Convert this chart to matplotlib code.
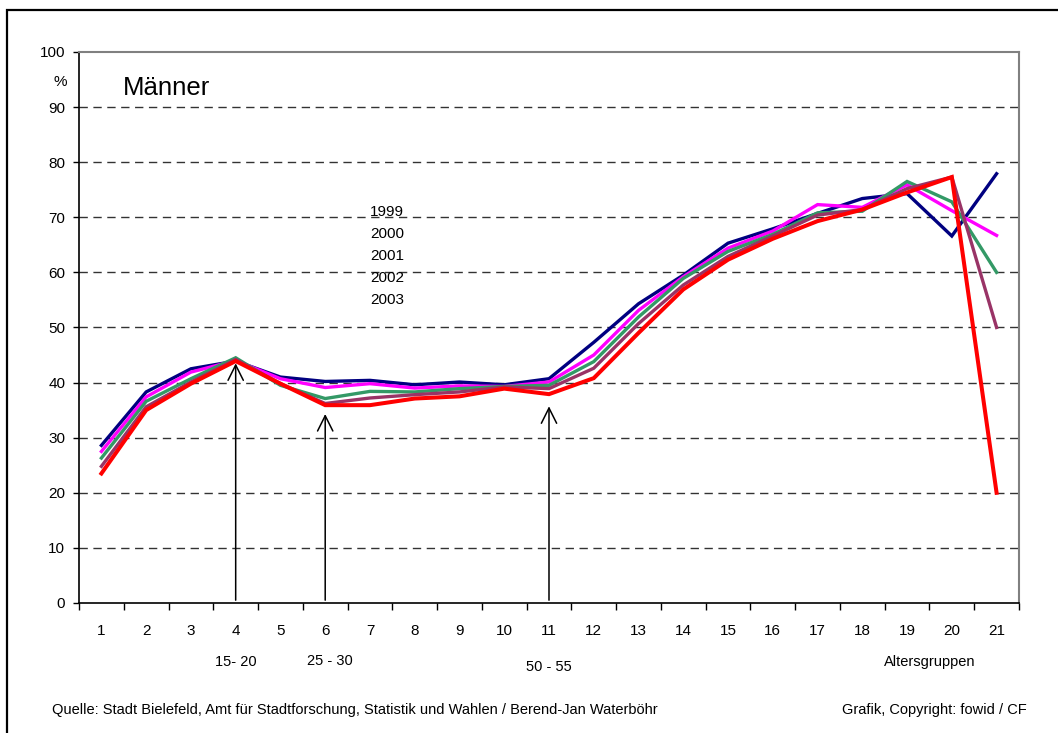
# maenner_altersgruppen.py
# Anteil (%) je Altersgruppe, Männer, Bielefeld 1999-2003

import numpy as np
import matplotlib.pyplot as plt
from matplotlib.patches import Rectangle

plt.rcParams['font.family'] = ['Liberation Sans', 'DejaVu Sans']

# Data
groups = list(range(1, 22))
years = ['1999', '2000', '2001', '2002', '2003']
v1999 = [28.6, 38.3, 42.5, 43.9, 41.0, 40.2, 40.4, 39.6, 40.1, 39.6, 40.7,
         47.3, 54.3, 59.5, 65.3, 67.9, 70.7, 73.4, 74.3, 66.6, 77.9]
v2000 = [27.5, 37.4, 41.9, 44.0, 40.7, 39.1, 39.8, 39.0, 39.4, 39.3, 40.1,
         45.0, 53.1, 59.2, 64.4, 67.5, 72.3, 71.8, 75.9, 71.2, 66.7]
v2001 = [26.3, 36.6, 40.7, 44.5, 39.5, 37.1, 38.4, 38.3, 38.9, 39.3, 39.5,
         43.8, 51.9, 58.9, 63.8, 66.9, 70.8, 71.1, 76.5, 72.8, 60.0]
v2002 = [24.8, 35.6, 40.1, 44.2, 39.8, 36.2, 37.2, 37.8, 38.3, 39.2, 38.9,
         42.6, 50.7, 57.7, 62.9, 66.6, 70.4, 71.4, 75.2, 77.3, 50.0]
v2003 = [23.5, 35.0, 39.8, 43.9, 39.8, 35.9, 35.9, 37.1, 37.5, 38.9, 37.9,
         40.8, 49.0, 56.9, 62.3, 66.1, 69.3, 71.4, 74.5, 77.3, 20.0]
series = [v1999, v2000, v2001, v2002, v2003]
colors = ['#000080', '#FF00FF', '#339966', '#993366', '#FF0000']
widths = [2.4, 2.4, 2.4, 2.4, 2.9]

# marked age groups: position, arrow tip value, label
marks = [(4, 44.0, '15- 20'), (6, 34.8, '25 - 30'), (11, 36.2, '50 - 55')]

fig = plt.figure(figsize=(10.58, 7.33), dpi=100)
ax = fig.add_axes([0.0747, 0.1774, 0.8884, 0.7517])

for vals, c, lw in zip(series, colors, widths):
    ax.plot(groups, vals, color=c, lw=lw, solid_joinstyle='miter', zorder=3)

ax.set_xlim(0.5, 21.5)
ax.set_ylim(0, 100)

# grid
for y in range(10, 100, 10):
    ax.axhline(y, color='#333333', lw=1, ls=(0, (6, 4)), zorder=1)

# axes look
ax.spines['top'].set_color('#808080')
ax.spines['right'].set_color('#808080')
ax.spines['top'].set_linewidth(1.5)
ax.spines['right'].set_linewidth(1.5)
ax.spines['left'].set_linewidth(1.2)
ax.spines['bottom'].set_linewidth(1.2)

ax.set_yticks(range(0, 101, 10))
ax.tick_params(axis='y', direction='out', length=4, width=1, pad=6, labelsize=11)
ax.set_xticks(groups)
ax.set_xticks(np.arange(0.5, 21.6, 1), minor=True)
ax.tick_params(axis='x', which='major', length=0, pad=15, labelsize=11)
ax.tick_params(axis='x', which='minor', direction='out', length=5, width=1)

# arrows
for x, tip, lab in marks:
    ax.annotate('', xy=(x, tip), xytext=(x, 0),
                arrowprops=dict(arrowstyle='->,head_length=1.1,head_width=0.55',
                                color='black', lw=1.1), zorder=4)

# legend text (no markers in the original)
for i, yr in enumerate(years):
    ax.text(7.0, 71.0 - i * 4.0, yr, fontsize=11, ha='left', va='center')

ax.text(1.47, 93.5, 'Männer', fontsize=18.5, ha='left', va='center')
ax.text(0.085, 94.5, '%', fontsize=11, ha='center', va='center', clip_on=False)

label_y = {'15- 20': -10.7, '25 - 30': -10.5, '50 - 55': -11.6}
for x, tip, lab in marks:
    ax.text(x + (0.1 if lab == '25 - 30' else 0.0), label_y[lab], lab,
            fontsize=10.5, ha='center', va='center', clip_on=False)
ax.text(19.5, -10.7, 'Altersgruppen', fontsize=10.5, ha='center', va='center',
        clip_on=False)

fig.text(0.049, 0.0314,
         'Quelle: Stadt Bielefeld, Amt für Stadtforschung, Statistik und Wahlen / Berend-Jan Waterböhr',
         fontsize=10.5, ha='left', va='center')
fig.text(0.9707, 0.0314, 'Grafik, Copyright: fowid / CF',
         fontsize=10.5, ha='right', va='center')

# outer frame (runs off the right and bottom edge like the original)
fig.patches.append(Rectangle((0.0066, -0.1), 1.1, 0.9864 + 0.1,
                             transform=fig.transFigure, fill=False,
                             edgecolor='black', lw=1.6))

fig.savefig('out.png', dpi=100)
